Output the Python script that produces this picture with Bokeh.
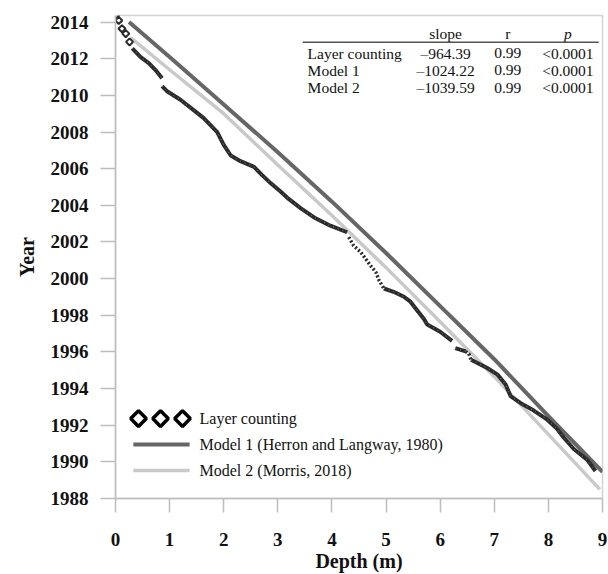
import math
from bokeh.plotting import figure
from bokeh.models import FixedTicker, ColumnDataSource
from bokeh.embed import file_html
from bokeh.resources import INLINE
from bokeh.core.properties import value

nan = float("nan")

# ---- data ----
# Layer counting: sparse diamonds near the surface
layer_start_depth = [0.0, 0.06, 0.12, 0.19, 0.26]
layer_start_year = [2014.36, 2014.09, 2013.64, 2013.37, 2012.92]

# Layer counting: dense sections (NaN = gap)
layer_depth = [0.31, 0.46, 0.62, 0.74, 0.86, nan,
               0.86, 0.96, 1.20, 1.45, 1.63, 1.88, 2.00, 2.13, 2.31, 2.56, 2.71,
               2.87, 3.05, 3.20, 3.42, 3.67, 3.97, 4.28, nan,
               4.96, 5.14, 5.33, 5.45, 5.58, 5.70, 5.76, 6.00, 6.22, nan,
               6.28, 6.47, nan,
               6.57, 6.87, 7.06, 7.21, 7.30, 7.49, 7.73, 7.98, 8.16, 8.29, 8.47,
               8.72, 8.87]
layer_year = [2012.56, 2012.10, 2011.75, 2011.38, 2010.93, nan,
              2010.51, 2010.21, 2009.76, 2009.18, 2008.76, 2008.00, 2007.30, 2006.72,
              2006.41, 2006.10, 2005.65, 2005.20, 2004.75, 2004.35, 2003.85, 2003.34,
              2002.89, 2002.53, nan,
              1999.46, 1999.28, 1999.01, 1998.74, 1998.25, 1997.80, 1997.50, 1997.10,
              1996.60, nan,
              1996.21, 1996.03, nan,
              1995.57, 1995.12, 1994.76, 1994.22, 1993.59, 1993.20, 1992.80, 1992.30,
              1991.80, 1991.30, 1990.70, 1990.10, 1989.50]

# Layer counting: dotted sections
layer_dot_depth = [4.31, 4.40, 4.53, 4.62, 4.71, 4.81, 4.87, 4.96, nan, 6.47, 6.53, 6.57]
layer_dot_year = [2002.26, 2001.80, 2001.45, 2001.09, 2000.72, 2000.36, 1999.91, 1999.46,
                  nan, 1996.03, 1995.90, 1995.57]

model1_depth = [0.25, 1, 2, 3, 4, 5, 6, 7, 8, 9]
model1_year = [2014.0, 2012.1, 2009.5, 2006.9, 2004.2, 2001.4, 1998.5, 1995.6, 1992.5, 1989.45]

model2_depth = [0.28, 1, 2, 3, 4, 5, 6, 7, 8, 8.95]
model2_year = [2013.15, 2011.4, 2009.0, 2006.2, 2003.45, 2000.6, 1997.65, 1994.65, 1991.5, 1988.5]

x_ticks = [0, 1, 2, 3, 4, 5, 6, 7, 8, 9]
y_ticks = list(range(1988, 2015, 2))

table_rows = ["Layer counting", "Model 1", "Model 2"]
table_slope = ["\u2013964.39", "\u20131024.22", "\u20131039.59"]
table_r = ["0.99", "0.99", "0.99"]
table_p = ["<0.0001", "<0.0001", "<0.0001"]
table_headers = ["slope", "r"]

legend_labels = ["Layer counting", "Model 1 (Herron and Langway, 1980)", "Model 2 (Morris, 2018)"]

FONT = "Liberation Serif"
C_LAYER = "#2b2b2b"
C_M1 = "#666666"
C_M2 = "#c9c9c9"

p = figure(width=608, height=574, x_range=(0, 9), y_range=(1988, 2014.36),
           output_backend="svg", toolbar_location=None,
           min_border_left=115, min_border_right=6, min_border_top=15, min_border_bottom=71)
p.background_fill_color = "white"
p.outline_line_color = "#d4d4d4"
p.outline_line_width = 1.5
p.grid.visible = False

for ax in (p.xaxis[0], p.yaxis[0]):
    ax.axis_line_color = "#bdbdbd"
    ax.axis_line_width = 1.5
    ax.major_tick_line_color = "#bdbdbd"
    ax.major_tick_line_width = 1.5
    ax.major_tick_in = 0
    ax.minor_tick_line_color = None
    ax.major_label_text_font = FONT
    ax.major_label_text_font_style = "bold"
    ax.major_label_text_font_size = "19px"
    ax.major_label_text_color = "#111111"
    ax.axis_label_text_font = FONT
    ax.axis_label_text_font_style = "bold"
    ax.axis_label_text_font_size = "20px"
    ax.axis_label_text_color = "#111111"

p.xaxis.ticker = FixedTicker(ticks=x_ticks)
p.yaxis.ticker = FixedTicker(ticks=y_ticks)
p.xaxis.major_tick_out = 14
p.yaxis.major_tick_out = 15
p.xaxis.major_label_standoff = 20
p.yaxis.major_label_standoff = 12
p.xaxis.axis_label = "Depth (m)"
p.yaxis.axis_label = "Year"
p.xaxis.axis_label_standoff = 1
p.yaxis.axis_label_standoff = 10

# ---- series ----
p.line(model2_depth, model2_year, line_color=C_M2, line_width=3.5)
p.line(model1_depth, model1_year, line_color=C_M1, line_width=4)
p.line(layer_depth, layer_year, line_color=C_LAYER, line_width=4)
p.line(layer_depth, layer_year, line_color="#8a8a8a", line_width=1, line_dash="1 4")
p.line(layer_dot_depth, layer_dot_year, line_color=C_LAYER, line_width=3.5, line_dash="2 2")
p.scatter(layer_start_depth, layer_start_year, marker="square", angle=math.pi / 4, size=5,
          fill_color="white", line_color=C_LAYER, line_width=2)

# ---- table (top right) ----
ty = [2012.30, 2011.38, 2010.41]
tsrc = ColumnDataSource(dict(row=table_rows, slope=table_slope, r=table_r, pv=table_p,
                             y=ty, xl=[3.55] * 3, xs=[6.10] * 3, xr=[7.25] * 3, xp=[8.36] * 3))
common = dict(text_font=value(FONT), text_font_size="15.5px", text_color="#111111",
              text_baseline="middle")
p.text(x="xl", y="y", text="row", source=tsrc, text_align="left", **common)
p.text(x="xs", y="y", text="slope", source=tsrc, text_align="center", **common)
p.text(x="xr", y="y", text="r", source=tsrc, text_align="center", **common)
p.text(x="xp", y="y", text="pv", source=tsrc, text_align="center", **common)
p.text(x=[6.10, 7.25], y=[2013.39, 2013.39], text=table_headers, text_align="center", **common)
p.text(x=[8.36], y=[2013.39], text=["p"], text_align="center", text_font_style="italic", **common)
p.segment(x0=[3.46], y0=[2012.9], x1=[8.93], y1=[2012.9], line_color="#555555", line_width=1.5)

# ---- legend (bottom left) ----
p.scatter([0.425, 0.832, 1.238], [1992.36] * 3, marker="square", angle=math.pi / 4, size=11,
          fill_color="white", line_color="black", line_width=3.5)
p.segment(x0=[0.33], y0=[1990.95], x1=[1.37], y1=[1990.95], line_color=C_M1, line_width=4)
p.segment(x0=[0.33], y0=[1989.53], x1=[1.37], y1=[1989.53], line_color=C_M2, line_width=3.5)
p.text(x=[1.553] * 3, y=[1992.36, 1990.95, 1989.53], text=legend_labels, text_align="left",
       text_baseline="middle", text_font=value(FONT), text_font_size="16px", text_color="#111111")

open("out.html", "w").write(file_html(p, INLINE))
